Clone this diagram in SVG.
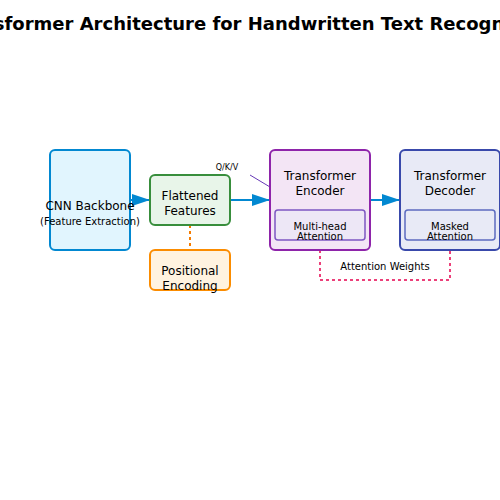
<svg xmlns="http://www.w3.org/2000/svg" width="500" height="500" viewBox="0 0 500 500">
<style>
text{font-family:"DejaVu Sans",sans-serif;fill:#000;text-anchor:middle}
.t12{font-size:12px}
.t10{font-size:10px}
.t8{font-size:8px}
.title{font-size:18px;font-weight:bold}
.flow{stroke:#0288d1;stroke-width:2;fill:none}
</style>
<defs>
<marker id="arr" viewBox="0 0 9 6" refX="9" refY="3" markerWidth="9" markerHeight="6" orient="auto">
<path d="M0,0 L9,3 L0,6 z" fill="#0288d1"/>
</marker>
</defs>
<rect width="500" height="500" fill="#fff"/>
<text class="title" x="250" y="30">Transformer Architecture for Handwritten Text Recognition</text>

<g id="connectors">
<line class="flow" x1="130" y1="200" x2="150" y2="200" marker-end="url(#arr)"/>
<line class="flow" x1="230" y1="200" x2="270" y2="200" marker-end="url(#arr)"/>
<line class="flow" x1="370" y1="200" x2="400" y2="200" marker-end="url(#arr)"/>
<line class="flow" x1="500" y1="200" x2="520" y2="200" marker-end="url(#arr)"/>
<line x1="190" y1="225" x2="190" y2="250" stroke="#f57c00" stroke-width="2" stroke-dasharray="3,3"/>
<line x1="250" y1="175" x2="275" y2="190" stroke="#673ab7" stroke-width="1"/>
<text class="t8" x="227" y="170">Q/K/V</text>
<path d="M320,250 V280 H450 V250" fill="none" stroke="#ec407a" stroke-width="2" stroke-dasharray="3,3"/>
<text class="t10" x="385" y="270">Attention Weights</text>
</g>

<g id="cnn">
<rect x="50" y="150" width="80" height="100" rx="5" fill="#e1f5fe" stroke="#0288d1" stroke-width="2"/>
<text class="t12" x="90" y="210">CNN Backbone</text>
<text class="t10" x="90" y="225">(Feature Extraction)</text>
</g>

<g id="flattened">
<rect x="150" y="175" width="80" height="50" rx="5" fill="#e8f5e9" stroke="#388e3c" stroke-width="2"/>
<text class="t12" x="190" y="200">Flattened</text>
<text class="t12" x="190" y="215">Features</text>
</g>

<g id="positional">
<rect x="150" y="250" width="80" height="40" rx="5" fill="#fff3e0" stroke="#fb8c00" stroke-width="2"/>
<text class="t12" x="190" y="275">Positional</text>
<text class="t12" x="190" y="290">Encoding</text>
</g>

<g id="encoder">
<rect x="270" y="150" width="100" height="100" rx="5" fill="#f3e5f5" stroke="#8e24aa" stroke-width="2"/>
<text class="t12" x="320" y="180">Transformer</text>
<text class="t12" x="320" y="195">Encoder</text>
<rect x="275" y="210" width="90" height="30" rx="3" fill="#ede7f6" stroke="#7e57c2" stroke-width="1.5"/>
<text class="t10" x="320" y="230">Multi-head</text>
<text class="t10" x="320" y="240">Attention</text>
</g>

<g id="decoder">
<rect x="400" y="150" width="100" height="100" rx="5" fill="#e8eaf6" stroke="#3949ab" stroke-width="2"/>
<text class="t12" x="450" y="180">Transformer</text>
<text class="t12" x="450" y="195">Decoder</text>
<rect x="405" y="210" width="90" height="30" rx="3" fill="#e8eaf6" stroke="#5c6bc0" stroke-width="1.5"/>
<text class="t10" x="450" y="230">Masked</text>
<text class="t10" x="450" y="240">Attention</text>
</g>
</svg>
